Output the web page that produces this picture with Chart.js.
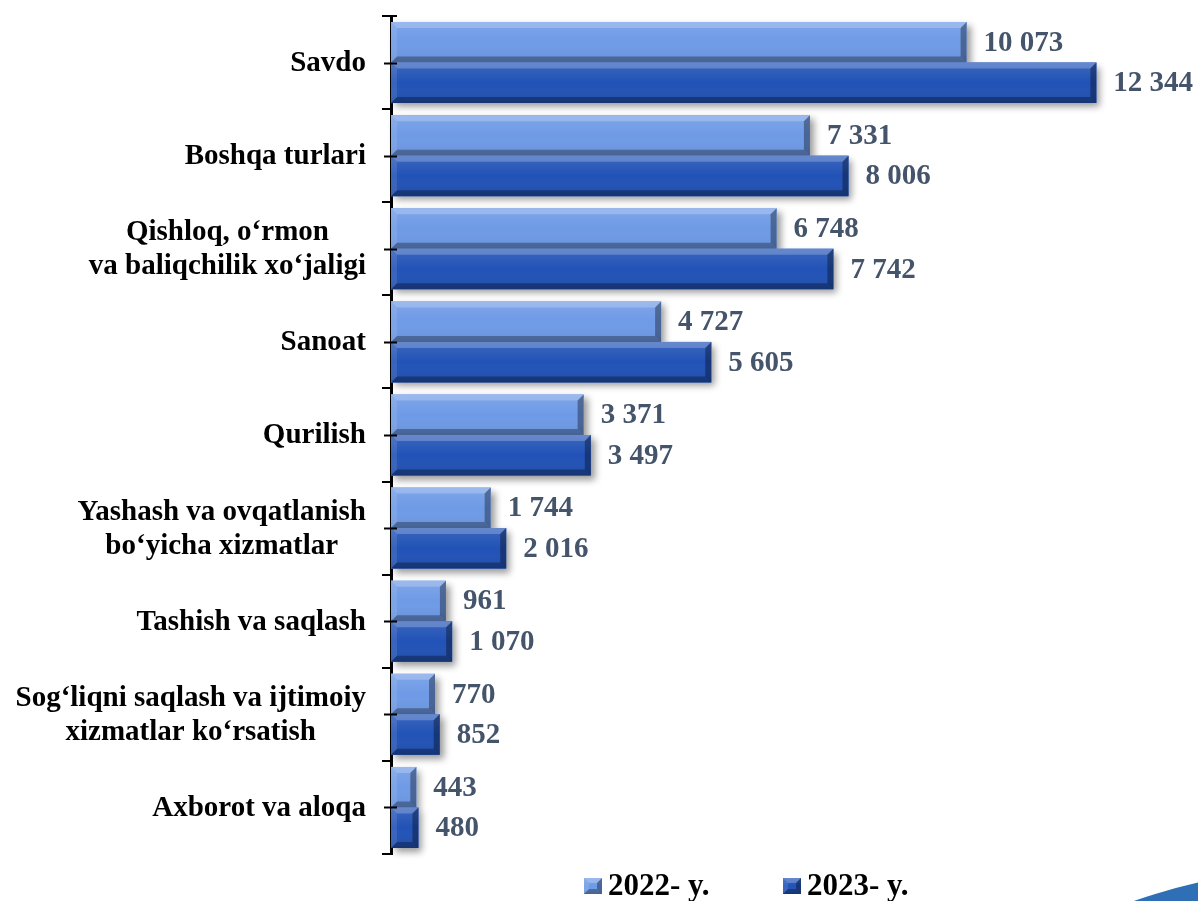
<!DOCTYPE html>
<html>
<head>
<meta charset="utf-8">
<script src="https://cdn.jsdelivr.net/npm/chart.js@4/dist/chart.umd.min.js"></script>
<style>
  html, body { margin: 0; padding: 0; background: #fff; }
  #wrap { width: 1198px; height: 901px; position: relative; }
</style>
</head>
<body>
<div id="wrap"><canvas id="myChart"></canvas></div>
<script>
// tarmoqlar (kategoriyalar)
const categories = [
  ['Savdo'],
  ['Boshqa turlari'],
  ['Qishloq, o‘rmon', 'va baliqchilik xo‘jaligi'],
  ['Sanoat'],
  ['Qurilish'],
  ['Yashash va ovqatlanish', 'bo‘yicha xizmatlar'],
  ['Tashish va saqlash'],
  ['Sog‘liqni saqlash va ijtimoiy', 'xizmatlar ko‘rsatish'],
  ['Axborot va aloqa']
];
const seriesNames = ['2022- y.', '2023- y.'];
const values2022 = [10073, 7331, 6748, 4727, 3371, 1744, 961, 770, 443];
const values2023 = [12344, 8006, 7742, 5605, 3497, 2016, 1070, 852, 480];
const xMax = 14000;

const colors = ['#6E9AE6', '#2152B6'];
const labelFont = 'bold 29px "Liberation Serif", "Times New Roman", serif';
const legendFont = 'bold 31px "Liberation Serif", "Times New Roman", serif';

function fmt(v) {
  return String(v).replace(/\B(?=(\d{3})+(?!\d))/g, ' ');
}

// 3D ko'rinishdagi ustun (faska)
function bevel(ctx, x0, y0, x1, y1, base, b) {
  ctx.save();
  ctx.fillStyle = base;
  ctx.fillRect(x0, y0, x1 - x0, y1 - y0);
  const g = ctx.createLinearGradient(0, y0, 0, y1);
  g.addColorStop(0, 'rgba(255,255,255,0.12)');
  g.addColorStop(0.5, 'rgba(255,255,255,0)');
  g.addColorStop(1, 'rgba(0,0,0,0.08)');
  ctx.fillStyle = g;
  ctx.fillRect(x0, y0, x1 - x0, y1 - y0);
  b = Math.min(b, (x1 - x0) / 2, (y1 - y0) / 2);
  const poly = (pts, c) => {
    ctx.beginPath();
    ctx.moveTo(pts[0][0], pts[0][1]);
    for (let i = 1; i < pts.length; i++) ctx.lineTo(pts[i][0], pts[i][1]);
    ctx.closePath();
    ctx.fillStyle = c;
    ctx.fill();
  };
  poly([[x0, y0], [x1, y0], [x1 - b, y0 + b], [x0 + b, y0 + b]], 'rgba(255,255,255,0.22)');
  poly([[x0, y1], [x1, y1], [x1 - b, y1 - b], [x0 + b, y1 - b]], 'rgba(0,0,0,0.30)');
  poly([[x1, y0], [x1, y1], [x1 - b, y1 - b], [x1 - b, y0 + b]], 'rgba(0,0,0,0.34)');
  poly([[x0, y0], [x0, y1], [x0 + b, y1 - b], [x0 + b, y0 + b]], 'rgba(255,255,255,0.10)');
  ctx.restore();
}

function barBox(el) {
  const p = el.getProps(['x', 'y', 'base', 'height'], true);
  return {
    x0: Math.min(p.x, p.base), x1: Math.max(p.x, p.base),
    y0: p.y - p.height / 2, y1: p.y + p.height / 2, cy: p.y, end: p.x
  };
}

const barStyle = {
  id: 'barStyle',
  beforeDatasetsDraw(chart) {
    const ctx = chart.ctx;
    ctx.save();
    ctx.shadowColor = 'rgba(0,0,0,0.40)';
    ctx.shadowBlur = 7;
    ctx.shadowOffsetX = 4;
    ctx.shadowOffsetY = 4;
    ctx.fillStyle = '#fff';
    chart.data.datasets.forEach((ds, di) => {
      chart.getDatasetMeta(di).data.forEach(el => {
        const b = barBox(el);
        ctx.fillRect(b.x0, b.y0, b.x1 - b.x0, b.y1 - b.y0);
      });
    });
    ctx.restore();
  },
  afterDatasetsDraw(chart) {
    const ctx = chart.ctx;
    chart.data.datasets.forEach((ds, di) => {
      chart.getDatasetMeta(di).data.forEach((el, i) => {
        const b = barBox(el);
        bevel(ctx, b.x0, b.y0, b.x1, b.y1, colors[di], 6);
        ctx.save();
        ctx.font = labelFont;
        ctx.fillStyle = '#44546A';
        ctx.textAlign = 'left';
        ctx.textBaseline = 'middle';
        ctx.fillText(fmt(ds.data[i]), b.end + 17, b.cy + 1);
        ctx.restore();
      });
    });
  },
  afterDraw(chart) {
    const ctx = chart.ctx;
    const area = chart.chartArea;
    const y = chart.scales.y;
    // kategoriya nomlari: blok o'ngga, satrlar markazga
    ctx.save();
    ctx.font = labelFont;
    ctx.fillStyle = '#000';
    ctx.textAlign = 'center';
    ctx.textBaseline = 'middle';
    const right = area.left - 25;
    const lh = 34;
    categories.forEach((lines, i) => {
      const cy = y.getPixelForValue(i);
      const w = Math.max(...lines.map(t => ctx.measureText(t).width));
      lines.forEach((t, k) => {
        ctx.fillText(t, right - w / 2, cy + (k - (lines.length - 1) / 2) * lh + 1);
      });
    });
    // kategoriya markazidagi belgilar
    ctx.strokeStyle = '#000';
    ctx.lineWidth = 2;
    categories.forEach((_, i) => {
      const cy = Math.round(y.getPixelForValue(i)) + 0.5;
      ctx.beginPath();
      ctx.moveTo(area.left - 7, cy);
      ctx.lineTo(area.left + 6, cy);
      ctx.stroke();
    });
    ctx.beginPath();
    ctx.moveTo(area.left - 9, area.top);
    ctx.lineTo(area.left + 6, area.top);
    ctx.stroke();
    // legenda
    ctx.font = legendFont;
    ctx.textAlign = 'left';
    ctx.textBaseline = 'alphabetic';
    const lx = [area.left + 193, area.left + 392];
    seriesNames.forEach((name, k) => {
      bevel(ctx, lx[k], 878, lx[k] + 18, 894, colors[k], 5);
      ctx.fillStyle = '#000';
      ctx.fillText(name, lx[k] + 24, 895);
    });
    // bezak: burchakdagi ko'k yoy
    ctx.beginPath();
    ctx.arc(1340, 1500, 633.5, 0, Math.PI * 2);
    ctx.fillStyle = '#2E6FB6';
    ctx.fill();
    ctx.restore();
  }
};

const ctx = document.getElementById('myChart').getContext('2d');
const myChart = new Chart(ctx, {
  type: 'bar',
  data: {
    labels: categories,
    datasets: [
      { label: seriesNames[0], data: values2022, backgroundColor: colors[0], borderWidth: 0 },
      { label: seriesNames[1], data: values2023, backgroundColor: colors[1], borderWidth: 0 }
    ]
  },
  options: {
    indexAxis: 'y',
    responsive: true,
    maintainAspectRatio: false,
    animation: false,
    categoryPercentage: 0.87,
    barPercentage: 1.0,
    layout: { padding: { top: 16, bottom: 47, left: 0, right: 7 } },
    scales: {
      x: { display: false, min: 0, max: xMax },
      y: {
        z: 1,
        ticks: { display: false },
        grid: {
          display: true, drawOnChartArea: false, drawTicks: true,
          tickLength: 9, offset: true, color: '#000', lineWidth: 2
        },
        border: { display: true, color: '#000', width: 3 },
        afterFit(scale) { scale.width = 391; }
      }
    },
    plugins: {
      legend: { display: false },
      tooltip: { enabled: false }
    }
  },
  plugins: [barStyle]
});
</script>
</body>
</html>
